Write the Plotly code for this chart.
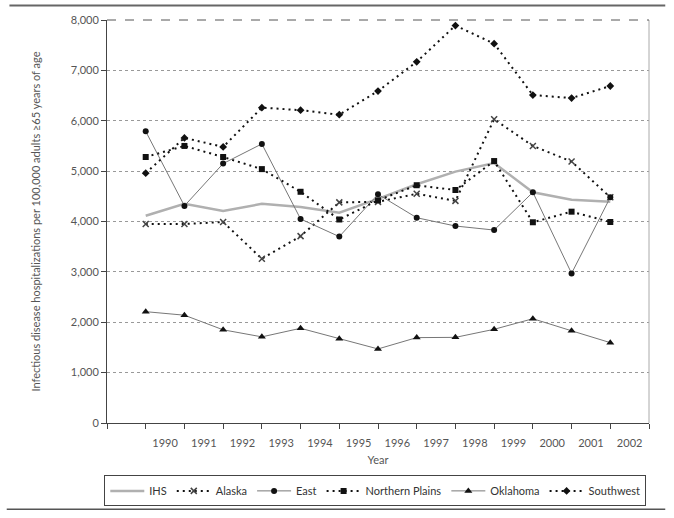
import plotly.graph_objects as go

# 数据
years = list(range(1990, 2003))
ihs = [4115, 4350, 4210, 4350, 4290, 4175, 4450, 4740, 4990, 5160, 4580, 4430, 4390]
alaska = [3950, 3950, 3990, 3260, 3710, 4380, 4390, 4550, 4410, 6030, 5500, 5190, 4480]
east = [5790, 4310, 5150, 5540, 4050, 3700, 4540, 4075, 3910, 3830, 4580, 2970, 4480]
northern_plains = [5280, 5500, 5280, 5040, 4590, 4040, 4420, 4720, 4625, 5200, 3985, 4195, 3990]
oklahoma = [2210, 2140, 1850, 1710, 1880, 1670, 1470, 1695, 1700, 1860, 2070, 1830, 1595]
southwest = [4960, 5660, 5480, 6260, 6210, 6120, 6590, 7170, 7890, 7530, 6510, 6450, 6690]

FONT = "Lato, 'Open Sans', sans-serif"
DOTS = "2px,4px"

fig = go.Figure()

fig.add_trace(go.Scatter(x=years, y=ihs, name="IHS", mode="lines",
                         line=dict(color="#b0b0b0", width=2.5)))
fig.add_trace(go.Scatter(x=years, y=alaska, name="Alaska", mode="lines+markers",
                         line=dict(color="#111111", width=2, dash=DOTS),
                         marker=dict(symbol="x-thin-open", size=6, color="#444",
                                     line=dict(color="#444", width=1.5))))
fig.add_trace(go.Scatter(x=years, y=east, name="East", mode="lines+markers",
                         line=dict(color="#777777", width=1),
                         marker=dict(symbol="circle", size=6, color="#111")))
fig.add_trace(go.Scatter(x=years, y=northern_plains, name="Northern Plains", mode="lines+markers",
                         line=dict(color="#111111", width=2, dash=DOTS),
                         marker=dict(symbol="square", size=6, color="#111")))
fig.add_trace(go.Scatter(x=years, y=oklahoma, name="Oklahoma", mode="lines+markers",
                         line=dict(color="#777777", width=1),
                         marker=dict(symbol="triangle-up", size=7, color="#111")))
fig.add_trace(go.Scatter(x=years, y=southwest, name="Southwest", mode="lines+markers",
                         line=dict(color="#111111", width=2, dash=DOTS),
                         marker=dict(symbol="diamond", size=6, color="#111")))

fig.update_layout(
    width=674, height=518,
    margin=dict(l=107, r=25, t=20, b=95),
    paper_bgcolor="white", plot_bgcolor="white",
    font=dict(family=FONT, size=11, color="#555"),
    showlegend=True,
    legend=dict(orientation="h", x=-0.005, xanchor="left", y=-0.13, yanchor="top",
                bordercolor="#444", borderwidth=1, font=dict(size=11, color="#333"),
                itemwidth=34, tracegroupgap=0),
    xaxis=dict(
        range=[years[0] - 1, years[-1] + 1],
        tickmode="array",
        tickvals=[y + 0.5 for y in years],
        ticktext=[str(y) for y in years],
        ticks="", showgrid=False, zeroline=False, automargin=False,
        ticklabelstandoff=10,
        showline=True, linecolor="#444", linewidth=1,
        minor=dict(tickmode="array", tickvals=list(range(years[0] - 1, years[-1] + 2)),
                   ticks="outside", ticklen=5, tickcolor="#444", showgrid=False),
        title=dict(text="Year", standoff=8, font=dict(size=11)),
        tickfont=dict(size=11),
    ),
    yaxis=dict(
        range=[0, 8000], dtick=1000, tickformat=",d",
        ticks="outside", ticklen=5, tickcolor="#444", automargin=False,
        showline=True, linecolor="#444", linewidth=1,
        showgrid=True, gridcolor="#999", griddash="dot", gridwidth=1,
        zeroline=False,
        title=dict(text="Infectious disease hospitalizations per 100,000 adults ≥65 years of age",
                   standoff=27, font=dict(size=11)),
        tickfont=dict(size=11),
    ),
)

# 右边框与顶部边框
fig.add_shape(type="line", xref="paper", yref="paper", x0=1, x1=1, y0=0, y1=1,
              line=dict(color="#aaa", width=1))
fig.add_shape(type="line", xref="paper", yref="paper", x0=0, x1=1, y0=1, y1=1,
              line=dict(color="#555", width=1, dash="dash"))

# 页面上下的横线
fig.add_shape(type="line", xref="paper", yref="paper", x0=-0.18, x1=1.03, y0=1.036, y1=1.036,
              line=dict(color="#666", width=2))
fig.add_shape(type="line", xref="paper", yref="paper", x0=-0.185, x1=1.03, y0=-0.214, y1=-0.214,
              line=dict(color="#555", width=1.5))

fig.write_html("out.html", config={"displayModeBar": False},
               post_script="document.body.style.margin='0';")
